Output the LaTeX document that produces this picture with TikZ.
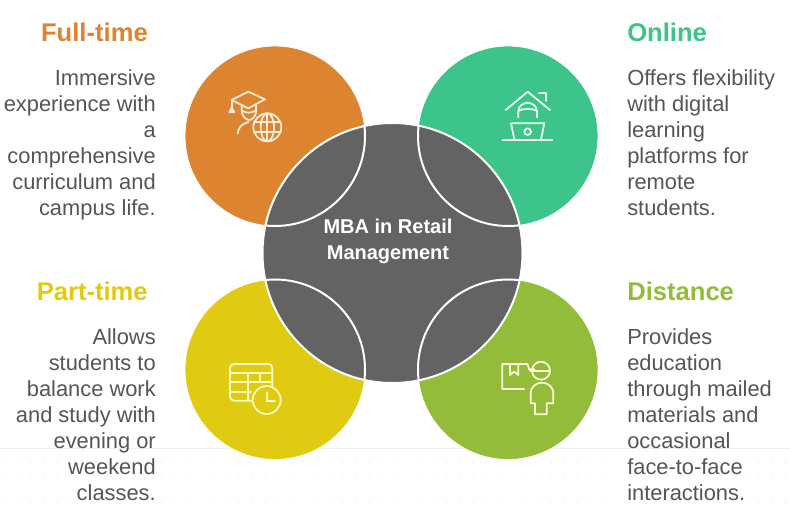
\documentclass[tikz,border=0pt]{standalone}
\usepackage{fontspec}
\setmainfont{Liberation Sans}
\definecolor{cOrange}{HTML}{DD8430}
\definecolor{cGreen}{HTML}{3CC48A}
\definecolor{cYellow}{HTML}{E0CB12}
\definecolor{cLime}{HTML}{93BC3A}
\definecolor{cDark}{HTML}{636363}
\definecolor{cText}{HTML}{555555}
\tikzset{
  petal/.style={circle,minimum size=180*0.75pt,inner sep=0pt,draw=white,line width=.6pt},
  hub/.style={circle,minimum size=260*0.75pt,inner sep=0pt,fill=cDark,draw=white,line width=1.5pt},
  heading/.style={font=\fontsize{19.2pt}{22pt}\selectfont\bfseries,inner sep=0pt},
  bodyR/.style={font=\fontsize{16.4pt}{19.5pt}\selectfont,text=cText,align=right,inner sep=0pt},
  bodyL/.style={font=\fontsize{16.4pt}{19.5pt}\selectfont,text=cText,align=left,inner sep=0pt},
  hubtext/.style={font=\fontsize{15pt}{19.5pt}\selectfont\bfseries,text=white,align=center,inner sep=0pt},
  iconO/.style={draw=orange!15!white,line width=1.3pt,line cap=round,line join=round},
  iconG/.style={draw=green!5!white,line width=1.3pt,line cap=round,line join=round},
  iconY/.style={draw=yellow!25!white,line width=1.3pt,line cap=round,line join=round},
  iconL/.style={draw=yellow!15!white,line width=1.3pt,line cap=round,line join=round}
}
\begin{document}
\begin{tikzpicture}[x=0.75pt,y=-0.75pt]
\useasboundingbox (0,0) rectangle (790,511);
% dotted ground
\draw[black!6,line width=.8pt] (0,448.5) -- (790,448.5);
\foreach \yy in {462,475,488,502}{
  \foreach \xx in {5,18,...,785}{
    \fill[black!16] (\xx,\yy) circle (.45pt);
  }
}
% petals
\node[petal,fill=cOrange] (fulltime) at (275,136) {};
\node[petal,fill=cGreen] (online) at (508,136) {};
\node[petal,fill=cYellow] (parttime) at (275,369.5) {};
\node[petal,fill=cLime] (distance) at (508,369.5) {};
% hub
\node[hub] (hub) at (392.5,253) {};
\begin{scope}
  \clip (392.5,253) circle (130*0.75pt);
  \foreach \c in {(275,136),(508,136),(275,369.5),(508,369.5)}{
    \draw[white,line width=1.5pt] \c circle (90*0.75pt);
  }
\end{scope}
\node[hubtext] (hublabel) at (388,241) {MBA in Retail\\Management};
% headings
\node[heading,text=cOrange,anchor=east] (h1) at (148,32) {Full-time};
\node[heading,text=cGreen,anchor=west] (h2) at (627,32) {Online};
\node[heading,text=cYellow,anchor=east] (h3) at (148,291) {Part-time};
\node[heading,text=cLime,anchor=west] (h4) at (627,291) {Distance};
% bodies
\node[bodyR,anchor=north east] (b1) at (156,69) {Immersive\\experience with\\a\\comprehensive\\curriculum and\\campus life.};
\node[bodyL,anchor=north west] (b2) at (627,69) {Offers flexibility\\with digital\\learning\\platforms for\\remote\\students.};
\node[bodyR,anchor=north east] (b3) at (156,328) {Allows\\students to\\balance work\\and study with\\evening or\\weekend\\classes.};
\node[bodyL,anchor=north west] (b4) at (627,328) {Provides\\education\\through mailed\\materials and\\occasional\\face-to-face\\interactions.};
% icon: graduate and globe
\begin{scope}[shift={(180,40)},x=.25pt,y=-.25pt]
  \draw[iconO] (155,180) -- (205,155) -- (255,178) -- (205,205) -- cycle;
  \draw[iconO] (155,180) -- (155,205);
  \draw[iconO,fill=orange!15!white] (155,203) -- (148,217) -- (163,217) -- cycle;
  \draw[iconO] (185,195) -- (185,215) .. controls (188,232) and (200,240) .. (207,240) .. controls (215,240) and (225,232) .. (228,218) -- (228,195);
  \draw[iconO] (187,212) .. controls (198,220) and (215,220) .. (226,212);
  \draw[iconO] (173,280) .. controls (175,262) and (185,252) .. (205,246);
  \draw[iconO] (262,262) circle (42);
  \draw[iconO] (262,262) ellipse (20 and 42);
  \draw[iconO] (262,220) -- (262,304) (222,247) -- (302,247) (222,277) -- (302,277);
\end{scope}
% icon: home laptop
\begin{scope}[shift={(415,40)},x=.25pt,y=-.25pt]
  \draw[iconG] (272,210) -- (338,155) -- (405,210);
  \draw[iconG] (372,160) -- (393,160) -- (393,183);
  \draw[iconG] (310,232) -- (310,215) .. controls (310,180) and (366,180) .. (366,215) -- (366,232);
  \draw[iconG] (310,212) .. controls (325,205) and (350,205) .. (366,212);
  \draw[iconG] (288,250) -- (388,250) -- (378,298) (298,298) -- (288,250);
  \draw[iconG] (338,275) circle (10);
  \draw[iconG] (263,300) -- (412,300);
\end{scope}
% icon: table and clock
\begin{scope}[shift={(180,280)},x=.25pt,y=-.25pt]
  \draw[iconY,rounded corners=3pt] (215,362) -- (150,362) -- (150,252) -- (277,252) -- (277,322);
  \draw[iconY] (150,280) -- (277,280) (150,305) -- (277,305) (150,335) -- (212,335);
  \draw[iconY] (205,280) -- (205,362) (240,280) -- (240,305);
  \draw[iconY] (260,360) circle (42);
  \draw[iconY] (260,337) -- (260,362) -- (285,362);
\end{scope}
% icon: parcel and courier
\begin{scope}[shift={(415,280)},x=.25pt,y=-.25pt]
  \draw[iconL] (328,327) -- (262,327) -- (262,252) -- (338,252) -- (342,268) -- (358,268);
  \draw[iconL] (285,252) -- (285,285) -- (297,275) -- (310,285) -- (310,252);
  \draw[iconL] (378,272) circle (27);
  \draw[iconL] (345,272) -- (405,272);
  \draw[iconL] (360,370) -- (360,403) -- (395,403) -- (395,370) -- (415,370) -- (415,340) .. controls (415,322) and (400,308) .. (381,308) .. controls (362,308) and (347,322) .. (347,340) -- (347,370) -- cycle;
\end{scope}
\end{tikzpicture}
\end{document}
